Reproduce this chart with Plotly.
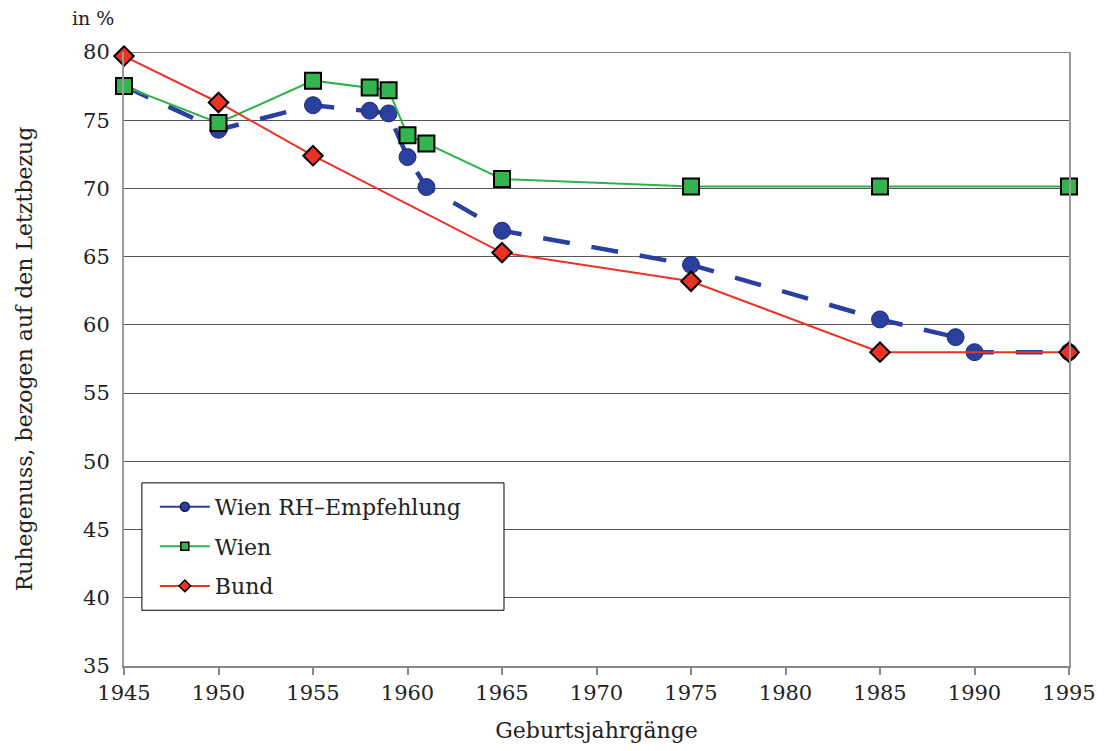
import plotly.graph_objects as go

years_rh = [1945, 1950, 1955, 1958, 1959, 1960, 1961, 1965, 1975, 1985, 1989, 1990, 1995]
wien_rh = [77.5, 74.3, 76.1, 75.7, 75.5, 72.3, 70.1, 66.9, 64.4, 60.4, 59.1, 58.0, 58.0]

years_wien = [1945, 1950, 1955, 1958, 1959, 1960, 1961, 1965, 1975, 1985, 1995]
wien = [77.5, 74.8, 77.9, 77.4, 77.2, 73.9, 73.3, 70.7, 70.15, 70.15, 70.15]

years_bund = [1945, 1950, 1955, 1965, 1975, 1985, 1995]
bund = [79.7, 76.3, 72.4, 65.3, 63.2, 58.0, 58.0]

x_ticks = [1945, 1950, 1955, 1960, 1965, 1970, 1975, 1980, 1985, 1990, 1995]
y_ticks = [35, 40, 45, 50, 55, 60, 65, 70, 75, 80]

FONT = "DejaVu Serif"
BLUE = "#2a3f9e"
GREEN = "#33b44f"
RED = "#ee3124"

L, R, T, B = 124, 34, 52, 82
W, H = 1108, 751

fig = go.Figure()
fig.add_trace(go.Scatter(
    x=years_rh, y=wien_rh, name="Wien RH–Empfehlung", mode="lines+markers",
    line=dict(color=BLUE, width=4.5, dash="27px,22px"),
    marker=dict(symbol="circle", size=17, color=BLUE, line=dict(color="#1e2d78", width=1)),
    showlegend=False, cliponaxis=False,
))
fig.add_trace(go.Scatter(
    x=years_wien, y=wien, name="Wien", mode="lines+markers",
    line=dict(color="#2db24a", width=2),
    marker=dict(symbol="square", size=16, color=GREEN, line=dict(color="black", width=2)),
    showlegend=False, cliponaxis=False,
))
fig.add_trace(go.Scatter(
    x=years_bund, y=bund, name="Bund", mode="lines+markers",
    line=dict(color=RED, width=2),
    marker=dict(symbol="diamond", size=15, color=RED, line=dict(color="black", width=2)),
    showlegend=False, cliponaxis=False,
))

# legend entries (small markers as in the reference)
fig.add_trace(go.Scatter(x=[None], y=[None], name="Wien RH–Empfehlung", mode="lines+markers",
                         line=dict(color=BLUE, width=2),
                         marker=dict(symbol="circle", size=9, color=BLUE, line=dict(color="#111a4a", width=1.5)),
                         legendgroup="a"))
fig.add_trace(go.Scatter(x=[None], y=[None], name="Wien", mode="lines+markers",
                         line=dict(color="#2db24a", width=2),
                         marker=dict(symbol="square", size=8, color=GREEN, line=dict(color="black", width=1.5)),
                         legendgroup="b"))
fig.add_trace(go.Scatter(x=[None], y=[None], name="Bund", mode="lines+markers",
                         line=dict(color=RED, width=2),
                         marker=dict(symbol="diamond", size=9, color=RED, line=dict(color="black", width=1.5)),
                         legendgroup="c"))

# top border of the plot area
fig.add_shape(type="line", xref="paper", yref="y", x0=0, x1=1, y0=80, y1=80,
              line=dict(color="black", width=1), layer="below")

# legend frame
fig.add_shape(type="rect", xref="paper", yref="paper",
              x0=(142 - 124) / 950, x1=(506 - 124) / 950,
              y0=(669 - 613) / 617, y1=(669 - 485) / 617,
              fillcolor="white", line=dict(color="black", width=1), layer="above")

fig.add_annotation(text="in %", xref="paper", yref="paper", x=-0.033, y=1.0, yshift=34,
                   showarrow=False, font=dict(family=FONT, size=19, color="#222"),
                   xanchor="center", yanchor="middle")

fig.update_layout(
    width=W, height=H,
    margin=dict(l=L, r=R, t=T, b=B),
    paper_bgcolor="white", plot_bgcolor="white",
    font=dict(family=FONT, size=21, color="#222"),
    showlegend=True,
    legend=dict(x=(155 - 124) / 950, y=(669 - 488) / 617, xanchor="left", yanchor="top",
                bgcolor="rgba(255,255,255,0)", borderwidth=0,
                font=dict(family=FONT, size=22, color="#222"),
                traceorder="grouped", tracegroupgap=8, itemwidth=50),
    xaxis=dict(range=[1945, 1995], tickvals=x_ticks, showgrid=False, zeroline=False,
               showline=True, linecolor="#888", linewidth=2, ticks="outside", ticklen=7,
               tickcolor="#888", tickwidth=2,
               title=dict(text="Geburtsjahrgänge", font=dict(family=FONT, size=22), standoff=18)),
    yaxis=dict(range=[35, 80], tickvals=y_ticks, showgrid=True, gridcolor="#555", gridwidth=1,
               zeroline=False, showline=True, linecolor="#999", linewidth=2, mirror=True,
               ticks="", ticklabelstandoff=8,
               title=dict(text="Ruhegenuss, bezogen auf den Letztbezug",
                          font=dict(family=FONT, size=22), standoff=44)),
)

fig.write_html("out.html", config={"displayModeBar": False},
               post_script="document.body.style.margin='0';document.body.style.overflow='hidden';")
